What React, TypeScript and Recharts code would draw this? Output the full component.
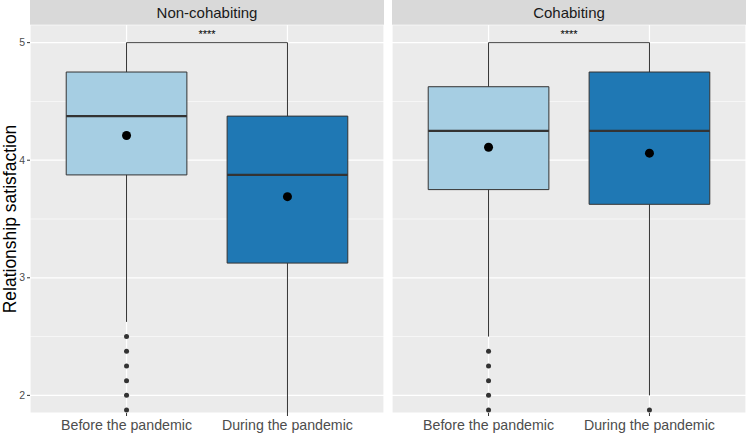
import React from "react";
import {
  ComposedChart,
  XAxis,
  YAxis,
  CartesianGrid,
  Scatter,
  ReferenceArea,
  ReferenceLine,
  ReferenceDot,
} from "recharts";

const categories = ["Before the pandemic", "During the pandemic"];
// major ticks at whole numbers, minor grid lines in between
const yGridTicks = [2, 2.5, 3, 3.5, 4, 4.5, 5];
const boxFills = ["#A6CEE3", "#1F78B4"];
const significance = "****";

// Non-cohabiting
const nonCohabLower = [2.625, 1.0];
const nonCohabQ1 = [3.875, 3.125];
const nonCohabMedian = [4.375, 3.875];
const nonCohabQ3 = [4.75, 4.375];
const nonCohabUpper = [5, 5];
const nonCohabMean = [4.21, 3.69];
const nonCohabOutliers = [[2.5, 2.375, 2.25, 2.125, 2.0, 1.875], []];

// Cohabiting
const cohabLower = [2.5, 2.0];
const cohabQ1 = [3.75, 3.625];
const cohabMedian = [4.25, 4.25];
const cohabQ3 = [4.625, 4.75];
const cohabUpper = [5, 5];
const cohabMean = [4.11, 4.06];
const cohabOutliers = [[2.375, 2.25, 2.125, 2.0, 1.875], [1.875]];

const FONT = "'Liberation Sans', Arial, sans-serif";
const BOX_HALF = 0.375;

const isMajor = (v: number) => Number.isInteger(v);

function YTick(props: any) {
  const { x, y, payload } = props;
  if (!isMajor(payload.value)) return <g />;
  return (
    <g>
      <line x1={x + 2} x2={x + 5} y1={y} y2={y} stroke="#333333" />
      <text x={x} y={y} dy="0.35em" textAnchor="end" fontSize={10.5} fill="#4D4D4D" fontFamily={FONT}>
        {payload.value}
      </text>
    </g>
  );
}

function GridLine(props: any) {
  const { x1, x2, y1, y2, index } = props;
  const minor = typeof index === "number" && index % 2 === 1;
  return <line x1={x1} x2={x2} y1={y1} y2={y2} stroke="#FFFFFF" strokeWidth={minor ? 0.6 : 1.2} />;
}

interface PanelProps {
  title: string;
  left: number;
  width: number;
  showYAxis: boolean;
  lower: number[];
  q1: number[];
  median: number[];
  q3: number[];
  upper: number[];
  mean: number[];
  outliers: number[][];
}

function Panel({ title, left, width, showYAxis, lower, q1, median, q3, upper, mean, outliers }: PanelProps) {
  const yAxisWidth = showYAxis ? 30 : 0;
  const meanPoints = mean.map((m, i) => ({ x: i + 1, y: m }));
  const outlierPoints = outliers.flatMap((arr, i) => arr.map((v) => ({ x: i + 1, y: v })));

  return (
    <div style={{ position: "absolute", left, top: 0, width, height: 434 }}>
      <div
        style={{
          position: "absolute",
          left: yAxisWidth,
          top: 0,
          width: width - yAxisWidth,
          height: 25,
          background: "#D9D9D9",
          color: "#1A1A1A",
          fontSize: 15,
          lineHeight: "25px",
          textAlign: "center",
        }}
      >
        {title}
      </div>
      {showYAxis && (
        <div
          style={{
            position: "absolute",
            left: 9.5,
            top: 219,
            transform: "translate(-50%, -50%) rotate(-90deg)",
            whiteSpace: "nowrap",
            fontSize: 17.5,
            lineHeight: "18px",
            color: "#000000",
          }}
        >
          Relationship satisfaction
        </div>
      )}
      <ComposedChart width={width} height={434} margin={{ top: 25, right: 0, bottom: 0, left: 0 }}>
        <CartesianGrid
          fill="#EBEBEB"
          fillOpacity={1}
          stroke="#FFFFFF"
          strokeWidth={1.2}
          horizontal={(p: any) => <GridLine {...p} />}
        />
        <XAxis
          type="number"
          dataKey="x"
          domain={[0.4, 2.6]}
          ticks={[1, 2]}
          allowDataOverflow
          tickFormatter={(v: number) => categories[v - 1]}
          axisLine={false}
          tickSize={3}
          tickMargin={4}
          tickLine={{ stroke: "#333333" }}
          tick={{ fontSize: 14.2, fill: "#4D4D4D", fontFamily: FONT }}
          height={21}
        />
        <YAxis
          type="number"
          dataKey="y"
          domain={[1.85, 5.15]}
          ticks={yGridTicks}
          interval={0}
          allowDataOverflow
          hide={!showYAxis}
          width={yAxisWidth}
          axisLine={false}
          tickSize={3}
          tickMargin={2}
          tickLine={false}
          tick={<YTick />}
        />
        {categories.map((c, i) => (
          <ReferenceLine
            key={`wu-${c}`}
            segment={[{ x: i + 1, y: q3[i] }, { x: i + 1, y: upper[i] }]}
            stroke="#333333"
            strokeWidth={1}
            ifOverflow="hidden"
          />
        ))}
        {categories.map((c, i) => (
          <ReferenceLine
            key={`wl-${c}`}
            segment={[{ x: i + 1, y: lower[i] }, { x: i + 1, y: q1[i] }]}
            stroke="#333333"
            strokeWidth={1}
            ifOverflow="hidden"
          />
        ))}
        {categories.map((c, i) => (
          <ReferenceArea
            key={`box-${c}`}
            x1={i + 1 - BOX_HALF}
            x2={i + 1 + BOX_HALF}
            y1={q1[i]}
            y2={q3[i]}
            fill={boxFills[i]}
            fillOpacity={1}
            stroke="#333333"
            strokeWidth={1}
            ifOverflow="hidden"
          />
        ))}
        {categories.map((c, i) => (
          <ReferenceLine
            key={`med-${c}`}
            segment={[{ x: i + 1 - BOX_HALF, y: median[i] }, { x: i + 1 + BOX_HALF, y: median[i] }]}
            stroke="#333333"
            strokeWidth={2.2}
          />
        ))}
        <ReferenceLine
          segment={[{ x: 1, y: 5 }, { x: 2, y: 5 }]}
          stroke="#444444"
          strokeWidth={1}
        />
        <ReferenceDot
          x={1.5}
          y={5}
          r={0}
          fill="none"
          stroke="none"
          label={{ value: significance, position: "top", offset: 4.5, fontSize: 11, fill: "#000000", fontFamily: FONT }}
        />
        <Scatter
          data={outlierPoints}
          isAnimationActive={false}
          shape={(p: any) => <circle cx={p.cx} cy={p.cy} r={2.5} fill="#333333" />}
        />
        <Scatter
          data={meanPoints}
          isAnimationActive={false}
          shape={(p: any) => <circle cx={p.cx} cy={p.cy} r={4.5} fill="#000000" />}
        />
      </ComposedChart>
    </div>
  );
}

export default function App() {
  return (
    <div
      style={{
        position: "fixed",
        left: 0,
        top: 0,
        width: 750,
        height: 434,
        background: "#FFFFFF",
        fontFamily: FONT,
        overflow: "hidden",
      }}
    >
      <Panel
        title="Non-cohabiting"
        left={0}
        width={384}
        showYAxis
        lower={nonCohabLower}
        q1={nonCohabQ1}
        median={nonCohabMedian}
        q3={nonCohabQ3}
        upper={nonCohabUpper}
        mean={nonCohabMean}
        outliers={nonCohabOutliers}
      />
      <Panel
        title="Cohabiting"
        left={392}
        width={354}
        showYAxis={false}
        lower={cohabLower}
        q1={cohabQ1}
        median={cohabMedian}
        q3={cohabQ3}
        upper={cohabUpper}
        mean={cohabMean}
        outliers={cohabOutliers}
      />
    </div>
  );
}
